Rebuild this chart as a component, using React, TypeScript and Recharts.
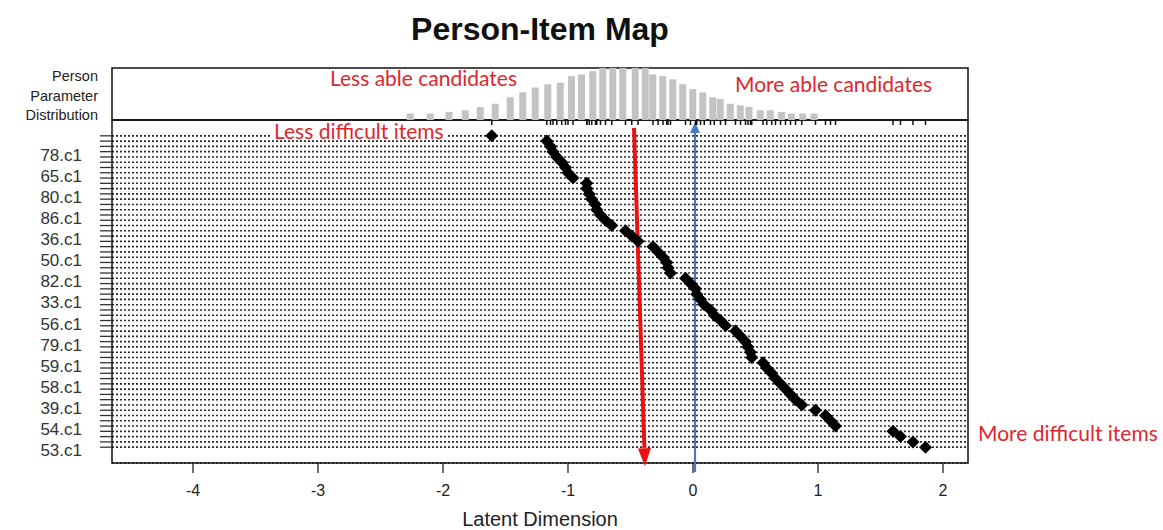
import { Bar, BarChart, CartesianGrid, ComposedChart, ReferenceArea, ReferenceLine, Scatter, XAxis, YAxis } from "recharts";

// item locations (logits), top row first
const itemLocations = [
  -1.61, -1.17, -1.14, -1.12, -1.09, -1.05, -1.02, -1.0, -0.96, -0.85,
  -0.85, -0.83, -0.81, -0.78, -0.77, -0.74, -0.7, -0.65, -0.54, -0.49,
  -0.44, -0.32, -0.28, -0.24, -0.21, -0.2, -0.18, -0.06, -0.02, 0.02,
  0.03, 0.06, 0.09, 0.14, 0.17, 0.22, 0.26, 0.34, 0.38, 0.42,
  0.44, 0.46, 0.47, 0.56, 0.59, 0.63, 0.66, 0.7, 0.74, 0.78,
  0.82, 0.87, 0.98, 1.06, 1.1, 1.14, 1.6, 1.66, 1.76, 1.86,
];
const labeledRows = [3, 7, 11, 15, 19, 23, 27, 31, 35, 39, 43, 47, 51, 55, 59];
const labeledNames = ["78.c1", "65.c1", "80.c1", "86.c1", "36.c1", "50.c1", "82.c1", "33.c1",
  "56.c1", "79.c1", "59.c1", "58.c1", "39.c1", "54.c1", "53.c1"];

// person parameter distribution
const personTheta = [
  -2.26, -2.1, -1.95, -1.82, -1.7, -1.58, -1.46, -1.36, -1.26, -1.16, -1.06, -0.97,
  -0.89, -0.8, -0.72, -0.64, -0.56, -0.46, -0.38, -0.32, -0.24, -0.16, -0.08, 0.0,
  0.08, 0.16, 0.22, 0.3, 0.38, 0.45, 0.54, 0.62, 0.71, 0.79, 0.88, 0.97,
];
const personCount = [
  4, 4, 5, 6, 8, 10, 14, 17, 20, 22, 23, 27,
  28, 30, 33, 35, 36, 34, 32, 28, 27, 25, 22, 19,
  17, 14, 13, 10, 9, 8, 6, 6, 5, 4, 4, 4,
];
const xTicks = [-4, -3, -2, -1, 0, 1, 2];

const X_DOMAIN: [number, number] = [-4.648, 2.2];
const Y_DOMAIN: [number, number] = [-3, 62];
const rows = itemLocations.map((_, i) => i);
const itemPoints = itemLocations.map((x, i) => ({ x, y: i }));
const hist = personTheta.map((theta, i) => ({ theta, count: personCount[i] }));
const nameByRow = new Map(labeledRows.map((r, i) => [r, labeledNames[i]]));

const RFONT = "'Liberation Sans', Arial, sans-serif";
const NOTE = "Lato, 'Open Sans', sans-serif";
const NOTE_RED = "#e0262c";

function ItemTick({ x, y, payload }: any) {
  const name = nameByRow.get(payload.value);
  if (!name) return <g />;
  return (
    <text x={x - 16} y={y} dy={9} textAnchor="end" fontSize={17} fill="#333" fontFamily={RFONT}>
      {name}
    </text>
  );
}

const EmptyTick = () => <g />;

function Diamond({ cx, cy }: any) {
  const r = 6.5;
  return <polygon points={`${cx},${cy - r} ${cx + r},${cy} ${cx},${cy + r} ${cx - r},${cy}`} fill="#000" />;
}

function arrow(color: string, width: number, headLen: number, headW: number) {
  return ({ x1, y1, x2, y2 }: any) => {
    const dx = x2 - x1, dy = y2 - y1;
    const len = Math.hypot(dx, dy);
    const ux = dx / len, uy = dy / len;
    const bx = x2 - ux * headLen, by = y2 - uy * headLen;
    const px = -uy * headW / 2, py = ux * headW / 2;
    return (
      <g>
        <line x1={x1} y1={y1} x2={bx} y2={by} stroke={color} strokeWidth={width} />
        <polygon points={`${x2},${y2} ${bx + px},${by + py} ${bx - px},${by - py}`} fill={color} />
      </g>
    );
  };
}

const note = (text: string, left: number, top: number, extra: any = {}) => (
  <div style={{ position: "absolute", left, top, fontFamily: NOTE, fontSize: 21, color: NOTE_RED, lineHeight: "22px", whiteSpace: "nowrap", ...extra }}>
    {text}
  </div>
);

export default function App() {
  return (
    <div style={{ position: "absolute", left: 0, top: 0, width: 1163, height: 530, background: "#fff", overflow: "hidden" }}>
      <div style={{ position: "absolute", left: 0, top: 0 }}>
        <ComposedChart width={1163} height={530} data={itemPoints}
          margin={{ top: 120, right: 195, bottom: 0, left: 0 }}>
          <CartesianGrid vertical={false} stroke="#2a2a2a" strokeWidth={1.6} strokeDasharray="2 2" />
          <XAxis dataKey="x" type="number" domain={X_DOMAIN} allowDataOverflow ticks={xTicks}
            interval={0} tickSize={10} tickMargin={12} axisLine={false} height={67}
            tickLine={{ stroke: "#222", strokeWidth: 1.3 }}
            tick={{ fontSize: 16, fill: "#222", fontFamily: RFONT }}
            label={{ value: "Latent Dimension", position: "insideBottom", offset: 4, fontSize: 20, fill: "#222", fontFamily: RFONT }} />
          <YAxis dataKey="y" type="number" domain={Y_DOMAIN} reversed allowDataOverflow ticks={rows}
            interval={0} width={112} tickSize={12} axisLine={false}
            tickLine={{ stroke: "#333", strokeWidth: 1.3 }} tick={<ItemTick />} />
          <ReferenceArea x1={X_DOMAIN[0]} x2={X_DOMAIN[1]} y1={Y_DOMAIN[0]} y2={Y_DOMAIN[1]}
            fill="none" stroke="#111" strokeWidth={1.5} fillOpacity={0} ifOverflow="visible" />
          <Scatter data={itemPoints} dataKey="y" shape={<Diamond />} isAnimationActive={false} />
          <ReferenceLine segment={[{ x: -0.472, y: -1.5 }, { x: -0.384, y: 62.6 }]} ifOverflow="visible"
            shape={arrow("#ee1111", 4, 18, 13)} />
          <ReferenceLine segment={[{ x: 0.016, y: 63.7 }, { x: 0.016, y: -2.62 }]} ifOverflow="visible"
            shape={arrow("#4a78c0", 2.2, 11, 10)} />
        </ComposedChart>
      </div>
      <div style={{ position: "absolute", left: 0, top: 0 }}>
        <BarChart width={1163} height={130} data={hist}
          margin={{ top: 68, right: 195, bottom: 0, left: 112 }}>
          <XAxis dataKey="theta" type="number" domain={X_DOMAIN} allowDataOverflow ticks={itemLocations}
            interval={0} tickSize={5} axisLine={false} height={10}
            tickLine={{ stroke: "#111", strokeWidth: 1.5 }} tick={<EmptyTick />} />
          <YAxis hide domain={[0, 32]} allowDataOverflow />
          <ReferenceArea x1={X_DOMAIN[0]} x2={X_DOMAIN[1]} y1={0} y2={32}
            fill="none" fillOpacity={0} stroke="#111" strokeWidth={1.5} ifOverflow="visible" />
          <Bar dataKey="count" fill="#c3c3c3" barSize={7} isAnimationActive={false} />
        </BarChart>
      </div>

      <div style={{ position: "absolute", left: 0, width: 1080, top: 11, textAlign: "center", fontFamily: RFONT, fontWeight: "bold", fontSize: 32, color: "#111" }}>
        Person-Item Map
      </div>
      <div style={{ position: "absolute", right: 1163 - 98, top: 67, textAlign: "right", fontFamily: RFONT, fontSize: 14.5, lineHeight: "19.5px", color: "#222" }}>
        Person<br />Parameter<br />Distribution
      </div>

      {note("Less able candidates", 330, 67)}
      {note("More able candidates", 735, 73)}
      {note("Less difficult items", 272, 122, { background: "#fff", padding: "0 2px", lineHeight: "17px" })}
      {note("More difficult items", 978, 422)}
    </div>
  );
}
